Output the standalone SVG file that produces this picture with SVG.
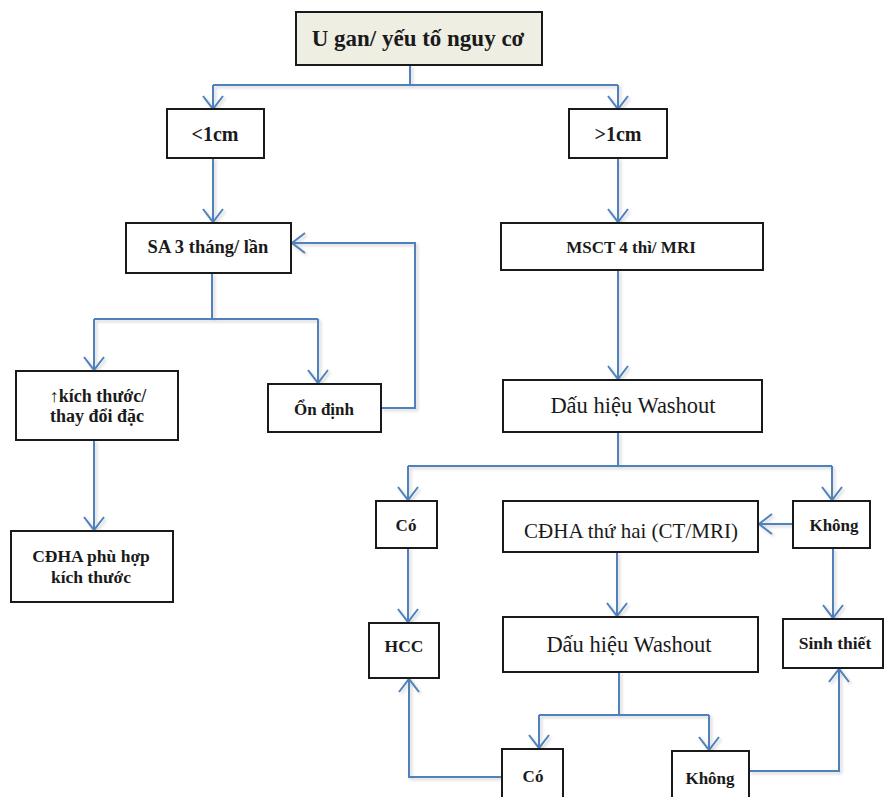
<svg xmlns="http://www.w3.org/2000/svg" width="886" height="797" viewBox="0 0 886 797">
<style>
.box{fill:#fff;stroke:#1a1a1a;stroke-width:2}
.t{font-family:"Liberation Serif","DejaVu Serif",serif;fill:#1a1a1a;text-anchor:middle}
.b{font-weight:bold}
.c{fill:none;stroke:#4f81bd;stroke-width:2}
</style>
<defs>
<marker id="ah" viewBox="0 0 16 24" refX="14" refY="12" markerWidth="16" markerHeight="24" markerUnits="userSpaceOnUse" orient="auto">
<path d="M1,2 L14,12 L1,22" fill="none" stroke="#4f81bd" stroke-width="2"/>
</marker>
<filter id="sh" x="-10%" y="-10%" width="120%" height="120%">
<feDropShadow dx="2" dy="2" stdDeviation="1.5" flood-color="#000" flood-opacity="0.18"/>
</filter>
</defs>
<rect width="886" height="797" fill="#fff"/>
<g id="connectors" filter="url(#sh)">
<path class="c" d="M410,65 V85 M213,85 H618"/>
<path class="c" d="M213,85 V109" marker-end="url(#ah)"/>
<path class="c" d="M618,85 V109" marker-end="url(#ah)"/>
<path class="c" d="M213,158 V222" marker-end="url(#ah)"/>
<path class="c" d="M618,158 V222" marker-end="url(#ah)"/>
<path class="c" d="M212,273 V319 M94,319 H318"/>
<path class="c" d="M94,319 V370" marker-end="url(#ah)"/>
<path class="c" d="M318,319 V383" marker-end="url(#ah)"/>
<path class="c" d="M381,408 H415 V243 H292" marker-end="url(#ah)"/>
<path class="c" d="M94,440 V530" marker-end="url(#ah)"/>
<path class="c" d="M618,270 V379" marker-end="url(#ah)"/>
<path class="c" d="M618,432 V466 M408,466 H832"/>
<path class="c" d="M408,466 V500" marker-end="url(#ah)"/>
<path class="c" d="M832,466 V500" marker-end="url(#ah)"/>
<path class="c" d="M793,524 H759" marker-end="url(#ah)"/>
<path class="c" d="M408,548 V622" marker-end="url(#ah)"/>
<path class="c" d="M617,552 V616" marker-end="url(#ah)"/>
<path class="c" d="M833,548 V618" marker-end="url(#ah)"/>
<path class="c" d="M619,672 V715 M539,715 H709"/>
<path class="c" d="M539,715 V748" marker-end="url(#ah)"/>
<path class="c" d="M709,715 V750" marker-end="url(#ah)"/>
<path class="c" d="M502,777 H409 V679" marker-end="url(#ah)"/>
<path class="c" d="M749,771 H839 V669" marker-end="url(#ah)"/>
</g>
<g id="n-top"><rect class="box" x="296" y="12" width="246" height="53" style="fill:#eeeee3"/><text class="t b" x="418" y="46" font-size="23">U gan/ yếu tố nguy cơ</text></g>
<g id="n-lt1"><rect class="box" x="167" y="109" width="97" height="49"/><text class="t b" x="215" y="141" font-size="20">&lt;1cm</text></g>
<g id="n-gt1"><rect class="box" x="569" y="109" width="98" height="49"/><text class="t b" x="618" y="141" font-size="20">&gt;1cm</text></g>
<g id="n-sa"><rect class="box" x="126" y="223" width="165" height="50"/><text class="t b" x="208" y="253" font-size="18.5">SA 3 tháng/ lần</text></g>
<g id="n-kich"><rect class="box" x="16" y="371" width="162" height="69"/><text class="t b" x="98" y="402" font-size="18">↑kích thước/</text><text class="t b" x="97" y="422" font-size="18">thay đổi đặc</text></g>
<g id="n-ondinh"><rect class="box" x="268" y="384" width="113" height="48"/><text class="t b" x="324" y="415" font-size="17">Ổn định</text></g>
<g id="n-cdha1"><rect class="box" x="11" y="531" width="162" height="71"/><text class="t b" x="91" y="562" font-size="17.5">CĐHA phù hợp</text><text class="t b" x="91" y="583" font-size="17.5">kích thước</text></g>
<g id="n-msct"><rect class="box" x="501" y="223" width="262" height="47"/><text class="t b" x="631" y="253" font-size="17">MSCT 4 thì/ MRI</text></g>
<g id="n-wash1"><rect class="box" x="503" y="380" width="259" height="52"/><text class="t" x="633" y="413" font-size="22.5">Dấu hiệu Washout</text></g>
<g id="n-co1"><rect class="box" x="376" y="501" width="61" height="47"/><text class="t b" x="406" y="531" font-size="17">Có</text></g>
<g id="n-cdha2"><rect class="box" x="503" y="501" width="255" height="51"/><text class="t" x="631" y="538" font-size="21">CĐHA thứ hai (CT/MRI)</text></g>
<g id="n-khong1"><rect class="box" x="793" y="501" width="77" height="47"/><text class="t b" x="834" y="531" font-size="17">Không</text></g>
<g id="n-hcc"><rect class="box" x="369" y="623" width="70" height="55"/><text class="t b" x="404" y="652" font-size="17.5">HCC</text></g>
<g id="n-wash2"><rect class="box" x="503" y="617" width="255" height="55"/><text class="t" x="629" y="652" font-size="22.5">Dấu hiệu Washout</text></g>
<g id="n-sinh"><rect class="box" x="783" y="619" width="100" height="49"/><text class="t b" x="835" y="649" font-size="17.5">Sinh thiết</text></g>
<g id="n-co2"><rect class="box" x="502" y="749" width="61" height="60"/><text class="t b" x="533" y="782" font-size="17">Có</text></g>
<g id="n-khong2"><rect class="box" x="672" y="751" width="77" height="60"/><text class="t b" x="710" y="784" font-size="17">Không</text></g>
</svg>
